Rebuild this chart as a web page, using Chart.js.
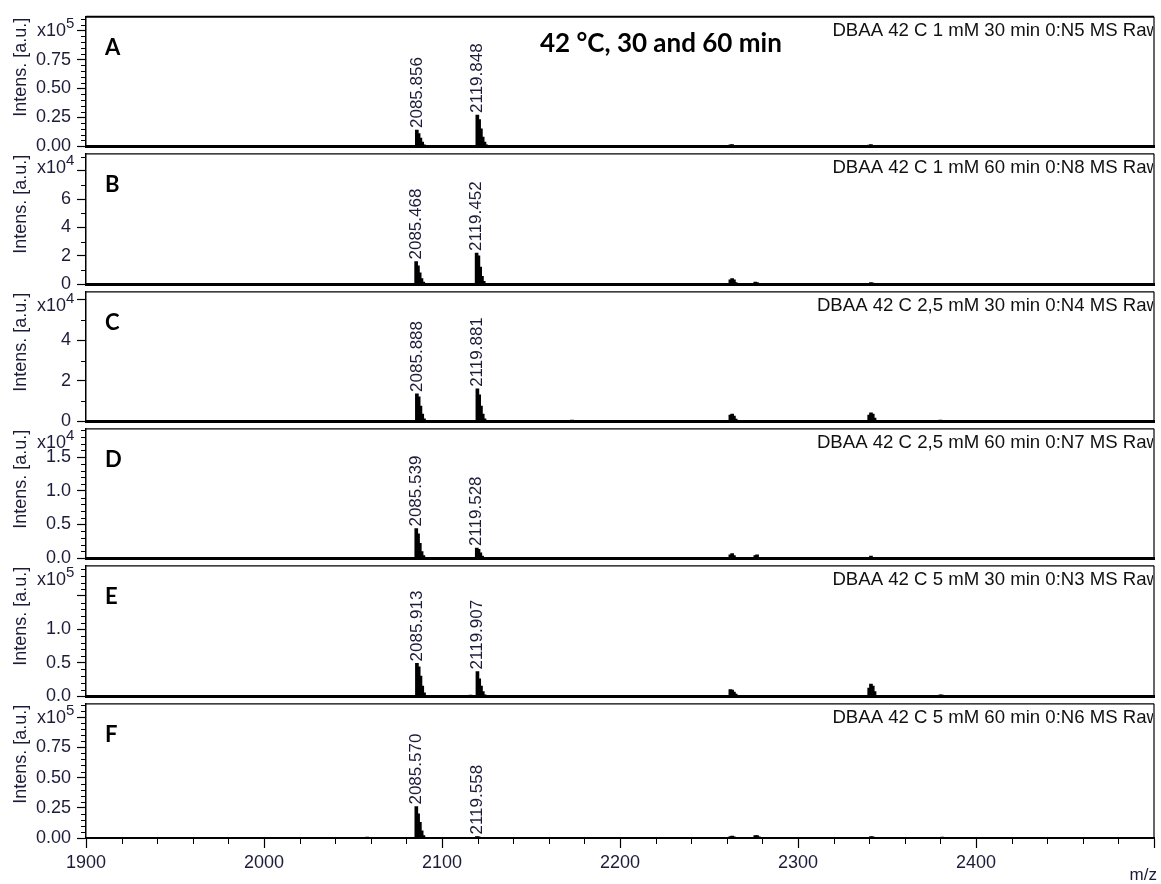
<!DOCTYPE html>
<html>
<head>
<meta charset="utf-8">
<script src="https://cdn.jsdelivr.net/npm/chart.js@4.4.1/dist/chart.umd.min.js"></script>
<style>
  html, body { margin: 0; padding: 0; background: #fff; }
  #wrap { position: relative; width: 1161px; height: 884px; overflow: hidden; background: #fff; }
  #wrap canvas { position: absolute; left: 0; }
</style>
</head>
<body>
<div id="wrap"></div>
<script>
// ---- data ----
const mzMin = 1900, mzMax = 2500;
const mzStep = 100;

const panelLetters = ['A', 'B', 'C', 'D', 'E', 'F'];
const panelNames = [
  'DBAA 42 C 1 mM 30 min 0:N5 MS Raw',
  'DBAA 42 C 1 mM 60 min 0:N8 MS Raw',
  'DBAA 42 C 2,5 mM 30 min 0:N4 MS Raw',
  'DBAA 42 C 2,5 mM 60 min 0:N7 MS Raw',
  'DBAA 42 C 5 mM 30 min 0:N3 MS Raw',
  'DBAA 42 C 5 mM 60 min 0:N6 MS Raw'
];
const chartTitle = '42 °C, 30 and 60 min';

// intensity axes (values are in units of 10^exponent)
const exponents = [5, 4, 4, 4, 5, 5];
const yMax = [1.12, 9.2, 6.4, 1.92, 1.95, 1.11];
const yStep = [0.25, 2, 2, 0.5, 0.5, 0.25];
const yMinorPerStep = [5, 2, 2, 5, 5, 5];
const yDecimals = [2, 0, 0, 1, 1, 2];
const yLabelTop = [0.75, 6, 4, 1.5, 1.0, 0.75];   // highest labelled tick

// A
const mzA = [2085.86, 2086.86, 2087.86, 2088.86, 2089.86, 2119.85, 2120.85, 2121.85, 2122.85, 2123.85, 2124.85, 2262, 2263, 2264, 2340, 2341, 2342];
const intA = [0.14, 0.11, 0.07, 0.035, 0.012, 0.27, 0.23, 0.15, 0.08, 0.035, 0.012, 0.012, 0.014, 0.008, 0.01, 0.014, 0.008];
const labelsA = ['2085.856', '2119.848'];
// B
const mzB = [2085.47, 2086.47, 2087.47, 2088.47, 2089.47, 2119.45, 2120.45, 2121.45, 2122.45, 2123.45, 2262, 2263, 2264, 2265, 2276, 2277, 2341, 2342, 2380];
const intB = [1.6, 1.3, 0.8, 0.4, 0.15, 2.2, 2.0, 1.2, 0.55, 0.2, 0.3, 0.4, 0.3, 0.12, 0.15, 0.12, 0.12, 0.08, 0.05];
const labelsB = ['2085.468', '2119.452'];
// C
const mzC = [2085.89, 2086.89, 2087.89, 2088.89, 2089.89, 2119.88, 2120.88, 2121.88, 2122.88, 2123.88, 2173, 2262, 2263, 2264, 2265, 2340, 2341, 2342, 2343, 2380];
const intC = [1.35, 1.2, 0.75, 0.35, 0.12, 1.6, 1.3, 0.75, 0.35, 0.12, 0.05, 0.3, 0.35, 0.25, 0.1, 0.3, 0.42, 0.35, 0.15, 0.05];
const labelsC = ['2085.888', '2119.881'];
// D
const mzD = [2085.54, 2086.54, 2087.54, 2088.54, 2089.54, 2119.53, 2120.53, 2121.53, 2122.53, 2262, 2263, 2264, 2276, 2277, 2341];
const intD = [0.44, 0.36, 0.22, 0.1, 0.04, 0.15, 0.13, 0.08, 0.03, 0.05, 0.07, 0.04, 0.04, 0.05, 0.03];
const labelsD = ['2085.539', '2119.528'];
// E
const mzE = [2056, 2058, 2060, 2077, 2085.91, 2086.91, 2087.91, 2088.91, 2089.91, 2098, 2104, 2108, 2112, 2116, 2119.91, 2120.91, 2121.91, 2122.91, 2123.91, 2131, 2145, 2173, 2193, 2262, 2263, 2264, 2265, 2275, 2278, 2281, 2340, 2341, 2342, 2343, 2358, 2380, 2381, 2416, 2450];
const intE = [0.01, 0.012, 0.01, 0.01, 0.49, 0.44, 0.3, 0.15, 0.05, 0.01, 0.01, 0.012, 0.01, 0.015, 0.37, 0.26, 0.15, 0.07, 0.02, 0.012, 0.008, 0.01, 0.006, 0.1, 0.09, 0.06, 0.03, 0.012, 0.012, 0.01, 0.12, 0.18, 0.15, 0.07, 0.01, 0.02, 0.015, 0.01, 0.008];
const labelsE = ['2085.913', '2119.907'];
// F
const mzF = [2058, 2085.57, 2086.57, 2087.57, 2088.57, 2089.57, 2119.56, 2120.56, 2173, 2262, 2263, 2264, 2276, 2277, 2278, 2341, 2342, 2381];
const intF = [0.008, 0.26, 0.2, 0.13, 0.06, 0.02, 0.012, 0.01, 0.006, 0.012, 0.016, 0.01, 0.02, 0.02, 0.01, 0.012, 0.01, 0.008];
const labelsF = ['2085.570', '2119.558'];

const spectraMz = [mzA, mzB, mzC, mzD, mzE, mzF];
const spectraInt = [intA, intB, intC, intD, intE, intF];
const peakLabels = [labelsA, labelsB, labelsC, labelsD, labelsE, labelsF];

// ---- layout ----
const panelTop = [14, 151, 289, 426, 563, 701];
const plotBottom = 838;
const axisW = 86;
const padRight = 7;
const textColor = '#1c1c3a';
const sans = '"Liberation Sans", Arial, sans-serif';

const deco = {
  id: 'deco',
  afterDraw(chart, args, o) {
    const { ctx, chartArea: a, scales: { x, y } } = chart;
    const i = o.panel;
    ctx.save();

    // frame top + right
    ctx.strokeStyle = '#000';
    ctx.lineWidth = i === 0 ? 2 : 1.2;
    ctx.beginPath();
    ctx.moveTo(a.left, a.top);
    ctx.lineTo(a.right, a.top);
    ctx.stroke();
    ctx.lineWidth = 1.2;
    ctx.beginPath();
    ctx.moveTo(a.right, a.top);
    ctx.lineTo(a.right, a.bottom);
    ctx.stroke();

    // minor y ticks
    const minor = yStep[i] / yMinorPerStep[i];
    ctx.lineWidth = 1;
    for (let k = 1; k * minor <= yMax[i] + 1e-9; k++) {
      if (k % yMinorPerStep[i] === 0) continue;
      const py = Math.round(y.getPixelForValue(k * minor)) + 0.5;
      ctx.beginPath();
      ctx.moveTo(a.left - 5, py);
      ctx.lineTo(a.left, py);
      ctx.stroke();
    }

    // minor x ticks on the bottom panel
    if (i === 5) {
      for (let v = mzMin + 20; v < mzMax; v += 20) {
        if (v % 100 === 0) continue;
        const px = Math.round(x.getPixelForValue(v)) + 0.5;
        ctx.beginPath();
        ctx.moveTo(px, a.bottom);
        ctx.lineTo(px, a.bottom + 6);
        ctx.stroke();
      }
      ctx.fillStyle = textColor;
      ctx.font = '17px ' + sans;
      ctx.textAlign = 'right';
      ctx.textBaseline = 'alphabetic';
      ctx.fillText('m/z', 1157, chart.height - 4);
    }

    // exponent label
    ctx.fillStyle = textColor;
    ctx.font = '18px ' + sans;
    ctx.textAlign = 'left';
    ctx.textBaseline = 'middle';
    ctx.fillText('x10', 37, a.top + 14);
    const w = ctx.measureText('x10').width;
    ctx.font = '15px ' + sans;
    ctx.fillText(String(exponents[i]), 37 + w, a.top + 7);

    // y title
    ctx.save();
    ctx.translate(21, a.top + 1);
    ctx.rotate(-Math.PI / 2);
    ctx.font = '18px ' + sans;
    ctx.textAlign = 'right';
    ctx.textBaseline = 'middle';
    ctx.fillText('Intens. [a.u.]', 0, 0);
    ctx.restore();

    // panel letter
    ctx.fillStyle = '#000';
    ctx.font = 'bold 22px Lato, "Open Sans", sans-serif';
    ctx.textAlign = 'left';
    ctx.textBaseline = 'alphabetic';
    ctx.fillText(panelLetters[i], 105, a.top + 38);

    if (i === 0) {
      ctx.font = 'bold 26px Lato, "Open Sans", sans-serif';
      ctx.fillText(chartTitle, 540, 52);
    }

    // spectrum name, clipped by the frame
    ctx.save();
    ctx.beginPath();
    ctx.rect(a.left, a.top, a.right - a.left - 1, a.bottom - a.top);
    ctx.clip();
    ctx.fillStyle = '#111';
    ctx.font = '18.6px ' + sans;
    ctx.textAlign = 'right';
    ctx.textBaseline = 'middle';
    ctx.fillText(panelNames[i], a.right + 6, a.top + 14);
    ctx.restore();

    // peak labels
    ctx.fillStyle = textColor;
    ctx.font = '17px ' + sans;
    const mzs = spectraMz[i], ints = spectraInt[i];
    peakLabels[i].forEach(lbl => {
      const m = parseFloat(lbl);
      let top = 0;
      mzs.forEach((v, k) => { if (v > m - 0.3 && v < m + 0.6) top = Math.max(top, ints[k]); });
      const px = x.getPixelForValue(m);
      const py = y.getPixelForValue(top) - 2;
      ctx.save();
      ctx.translate(px, py);
      ctx.rotate(-Math.PI / 2);
      ctx.textAlign = 'left';
      ctx.textBaseline = 'middle';
      ctx.fillText(lbl, 0, 0);
      ctx.restore();
    });

    ctx.restore();
  }
};

const wrap = document.getElementById('wrap');

panelLetters.forEach((letter, i) => {
  const top = panelTop[i];
  const bottom = i < 5 ? panelTop[i + 1] : plotBottom;
  const padTop = 14;
  const padBottom = i < 5 ? 12 : 0;
  const xAxisH = i < 5 ? 0 : 884 - plotBottom;
  const h = padTop + (bottom - top) + padBottom + xAxisH;

  const cv = document.createElement('canvas');
  cv.width = 1161;
  cv.height = h;
  cv.style.top = (top - padTop) + 'px';
  cv.style.width = '1161px';
  cv.style.height = h + 'px';
  wrap.appendChild(cv);

  const points = spectraMz[i].map((m, k) => ({ x: m, y: spectraInt[i][k] }));
  const decimals = yDecimals[i];
  const labelTop = yLabelTop[i];

  new Chart(cv, {
    type: 'bar',
    data: {
      datasets: [{
        data: points,
        backgroundColor: '#000',
        borderWidth: 0,
        barThickness: 3,
        grouped: false
      }]
    },
    options: {
      responsive: false,
      animation: false,
      devicePixelRatio: 1,
      layout: { padding: { top: padTop, bottom: padBottom, left: 0, right: padRight } },
      plugins: {
        legend: { display: false },
        tooltip: { enabled: false },
        deco: { panel: i }
      },
      scales: {
        x: {
          type: 'linear',
          position: 'bottom',
          offset: false,
          min: mzMin,
          max: mzMax,
          afterFit: s => { s.height = xAxisH; },
          ticks: {
            display: i === 5,
            stepSize: mzStep,
            autoSkip: false,
            maxRotation: 0,
            padding: 4,
            color: textColor,
            font: { family: sans, size: 18 },
            callback: v => (v === mzMax ? '' : String(v))
          },
          grid: {
            offset: false,
            drawOnChartArea: false,
            drawTicks: i === 5,
            tickLength: 10,
            tickColor: '#000',
            tickWidth: 1.2
          },
          border: { color: '#000', width: i === 5 ? 2 : 3 }
        },
        y: {
          type: 'linear',
          min: 0,
          max: yMax[i],
          afterFit: s => { s.width = axisW; },
          ticks: {
            stepSize: yStep[i],
            includeBounds: false,
            autoSkip: false,
            padding: 6,
            color: textColor,
            font: { family: sans, size: 18 },
            callback: v => (v > labelTop + 1e-9 ? '' : v.toFixed(decimals))
          },
          grid: {
            drawOnChartArea: false,
            tickLength: 9,
            tickColor: '#000',
            tickWidth: 1.2
          },
          border: { color: '#000', width: 1.5 }
        }
      }
    },
    plugins: [deco]
  });
});
</script>
</body>
</html>
